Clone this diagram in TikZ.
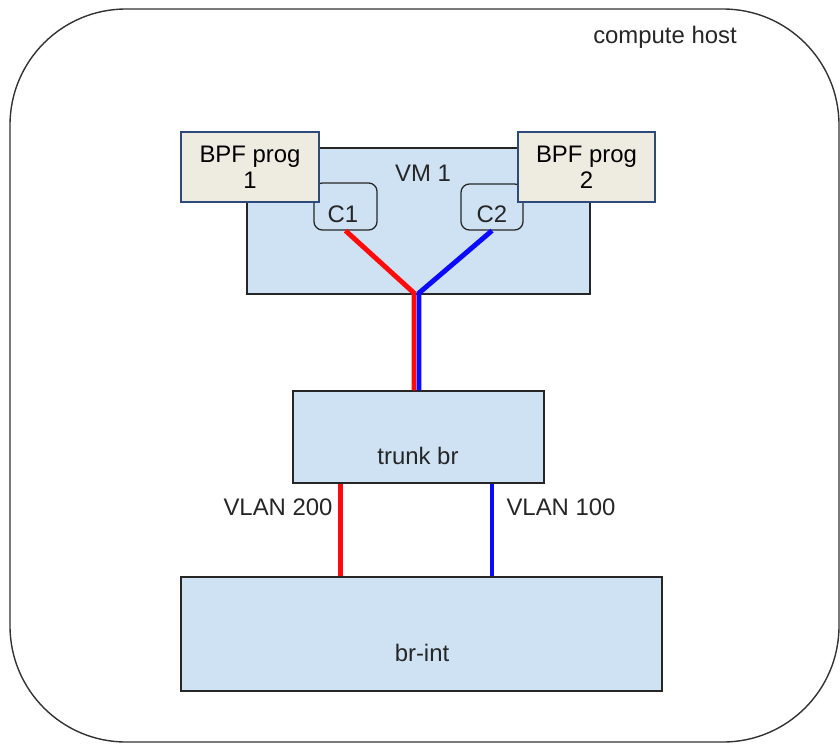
\documentclass[tikz,border=0pt]{standalone}
\usepackage{fontspec}
\setmainfont{Liberation Sans}
\definecolor{vmblue}{HTML}{CFE2F3}
\definecolor{progfill}{HTML}{EEECE1}
\definecolor{progline}{HTML}{2E4A7A}
\definecolor{linkred}{HTML}{FF0A0A}
\definecolor{linkblue}{HTML}{0A0AFF}
\tikzset{
	box/.style={draw=black!85, line width=0.9pt, fill=vmblue, inner sep=0pt},
	prog/.style={draw=progline, line width=1.4pt, fill=progfill, inner sep=0pt, align=center},
	port/.style={box, rounded corners=6pt},
	lbl/.style={inner sep=0pt, text=black!85},
	redlink/.style={linkred, line width=3.5pt},
	bluelink/.style={linkblue, line width=3.5pt},
}

\begin{document}
\begin{tikzpicture}[x=0.025cm, y=-0.025cm, font=\fontsize{17}{18.5}\selectfont]
		\useasboundingbox (0,0) rectangle (840,744);
		\draw[black!80, line width=1pt, rounded corners=2.9cm] (10,9) rectangle (839,742);
		\node[lbl] (hostlbl) at (665,37) {compute host};

		\node[box, minimum width=8.575cm, minimum height=3.65cm] (vm) at (418.5,221) {};
		\node[lbl] (vmlbl) at (423,173) {VM 1};
		\node[port, minimum width=1.575cm, minimum height=1.175cm] (c1) at (345.5,206.5) {};
		\node[port, minimum width=1.55cm, minimum height=1.15cm] (c2) at (492,207) {};
		\node[lbl] (c1lbl) at (343,214) {C1};
		\node[lbl] (c2lbl) at (492,214) {C2};

		\node[prog, minimum width=3.45cm, minimum height=1.75cm] (bpf1) at (250,167) {BPF prog\\1};
		\node[prog, minimum width=3.425cm, minimum height=1.75cm] (bpf2) at (586.5,167) {BPF prog\\2};

		\node[box, minimum width=6.275cm, minimum height=2.3cm] (trunk) at (418.5,437) {};
		\node[lbl] (trunklbl) at (418,456) {trunk br};

		\node[box, minimum width=12.025cm, minimum height=2.85cm] (brint) at (421.5,634) {};
		\node[lbl] (brintlbl) at (422,653) {br-int};

		\coordinate (forkR) at (414,293);
		\coordinate (forkB) at (419,293);
		\draw[redlink] (c1.south) to (forkR) to (forkR |- trunk.north);
		\draw[bluelink] (c2.south) to (forkB) to (forkB |- trunk.north);

		\coordinate (v200) at (340.5,530);
		\coordinate (v100) at (492,530);
		\draw[redlink] (trunk.south -| v200) to (brint.north -| v200);
		\draw[bluelink] (trunk.south -| v100) to (brint.north -| v100);
		\node[lbl] (vlan200) at (278,507) {VLAN 200};
		\node[lbl] (vlan100) at (561,507) {VLAN 100};
\end{tikzpicture}
\end{document}
